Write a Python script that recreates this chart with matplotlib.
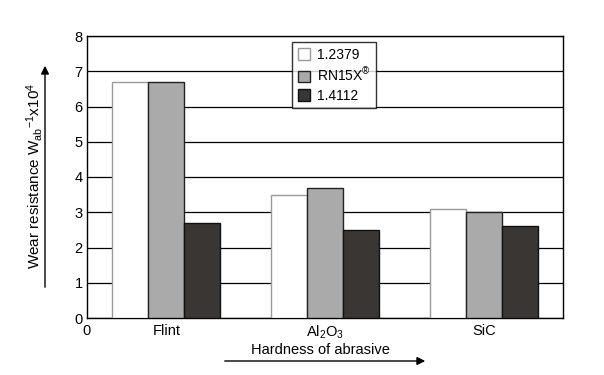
import numpy as np
import matplotlib.pyplot as plt

plt.rcParams['font.family'] = ['Liberation Sans', 'DejaVu Sans']
plt.rcParams['mathtext.fontset'] = 'custom'
plt.rcParams['mathtext.rm'] = 'Liberation Sans'
plt.rcParams['mathtext.it'] = 'Liberation Sans'

# data
abrasives = ['Flint', 'Al$_2$O$_3$', 'SiC']
steels = ['1.2379', 'RN15X$^{®}$', '1.4112']
v_12379 = [6.7, 3.5, 3.1]
v_rn15x = [6.7, 3.7, 3.0]
v_14112 = [2.7, 2.5, 2.6]

fills = ['white', '#aaaaaa', '#3a3633']
edges = ['#9a9a9a', '#222222', '#111111']
fs = 10.5

fig = plt.figure(figsize=(6.04, 3.75), dpi=100)
ax = fig.add_axes([87/604, 1 - 318/375, 476/604, 282/375])

x = np.arange(len(abrasives)) + 0.5
w = 0.227
for i, vals in enumerate([v_12379, v_rn15x, v_14112]):
    ax.bar(x + (i - 1) * w, vals, w, color=fills[i], edgecolor=edges[i],
           linewidth=1.0, label=steels[i], zorder=3)

ax.set_xlim(0, 3)
ax.set_ylim(0, 8)
ax.set_yticks(range(9))
ax.yaxis.grid(True, color='black', linewidth=0.9, zorder=0)
ax.tick_params(axis='y', length=0, labelsize=fs, pad=3)
ax.tick_params(axis='x', length=0, labelsize=fs, pad=4)
# the extra "0" sits under the x origin
ax.set_xticks([0] + list(x))
ax.set_xticklabels(['0'] + abrasives)
for s in ax.spines.values():
    s.set_linewidth(1.0)

leg = ax.legend(loc='upper left', bbox_to_anchor=(205/476, 1 - 6/282),
                borderaxespad=0, fontsize=10, frameon=True, fancybox=False,
                handlelength=0.9, handleheight=0.9, handletextpad=0.5,
                borderpad=0.4, labelspacing=0.35)
leg.get_frame().set_edgecolor('black')
leg.get_frame().set_linewidth(1.0)

# axis captions with arrows
fig.text(35/604, 1 - 176/375, 'Wear resistance W$_{ab}$$^{-1}$x10$^4$',
         rotation=90, ha='center', va='center', fontsize=11)
ax.annotate('', xy=(45/604, 1 - 63/375), xytext=(45/604, 1 - 290/375),
            xycoords='figure fraction',
            arrowprops=dict(arrowstyle='-|>', color='black', lw=1.0,
                            mutation_scale=12))
fig.text(320/604, 1 - 350/375, 'Hardness of abrasive', ha='center', va='center',
         fontsize=fs)
ax.annotate('', xy=(428/604, 1 - 361/375), xytext=(222/604, 1 - 361/375),
            xycoords='figure fraction',
            arrowprops=dict(arrowstyle='-|>', color='black', lw=1.0,
                            mutation_scale=12))

fig.savefig('out.png', dpi=100)
